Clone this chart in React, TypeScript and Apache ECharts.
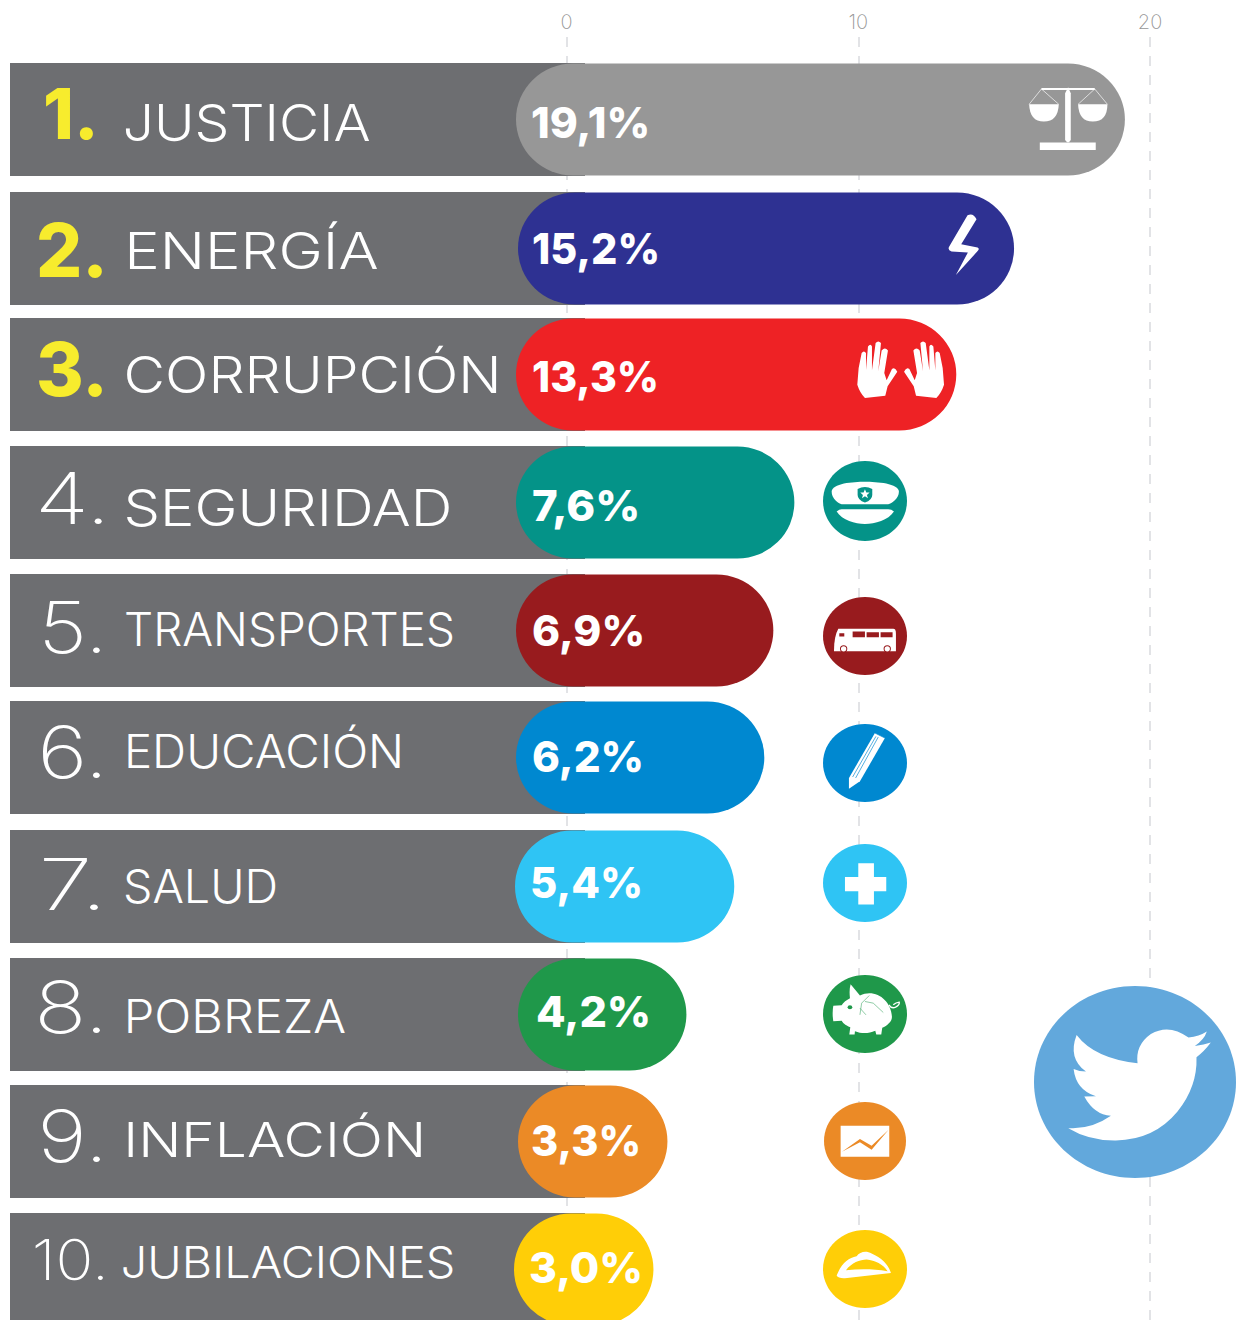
import React, { useEffect, useRef } from "react";
import * as echarts from "echarts";

const ranks = [1, 2, 3, 4, 5, 6, 7, 8, 9, 10];
const rankLabels = ["1.", "2.", "3.", "4.", "5.", "6.", "7.", "8.", "9.", "10."];
const categories = ["JUSTICIA", "ENERGÍA", "CORRUPCIÓN", "SEGURIDAD", "TRANSPORTES", "EDUCACIÓN", "SALUD", "POBREZA", "INFLACIÓN", "JUBILACIONES"];
const valueLabels = ["19,1%", "15,2%", "13,3%", "7,6%", "6,9%", "6,2%", "5,4%", "4,2%", "3,3%", "3,0%"];
// where each pill visibly ends on the 0-20 axis
const barEnds = [19.14, 15.34, 13.36, 7.81, 7.09, 6.78, 5.75, 4.11, 3.46, 2.98];
const xTicks = [0, 10, 20];

const colors = ["#979797", "#2e3192", "#ee2225", "#049388", "#981b1e", "#0088d0", "#2fc4f4", "#1f984a", "#eb8a26", "#ffce07"];
const BAND = "#6d6e71";

// layout
const rowNudge = [0, 1.5, -0.1, 0.3, 0.8, 0.2, 1.6, 2.1, 1.5, 1.9];
const pillStart = [516, 518, 516, 516, 516, 516, 515, 518, 518, 514];
const nameLayout = [
  [125, 245, 122.5, 50], [129, 249, 250.5, 50], [127, 370, 374.5, 50], [127, 322, 507.5, 50], [126, 327, 629, 46],
  [128, 272, 751, 46], [125, 151, 886.5, 46], [128, 217, 1016.5, 46], [128, 293, 1140, 48], [123, 330, 1263, 43],
];
const rankLayout = [
  [46, 47, 113.5, 70, 800], [39, 63, 250, 74, 800], [39, 63, 369, 74, 800], [40, 62, 498, 72, 200], [44, 56, 627, 72, 200],
  [42, 58, 752, 72, 200], [44, 54, 884, 72, 200], [39, 61, 1007, 72, 200], [42, 58, 1136, 72, 200], [35, 68, 1259, 56, 200],
];
const valueLayout = [
  [532, 115, 122.5], [533, 124, 248.5], [533, 123, 376.5], [533, 104, 505.5], [533, 109, 630.5],
  [533, 108, 756.5], [532, 108, 882.5], [537, 111, 1011.5], [532, 106, 1140.5], [530, 110, 1267.5],
];
const iconCircles: (number[] | null)[] = [
  null, null, null, [865, 501, 42, 40], [865, 636, 42, 39], [865, 763, 42, 39], [865, 883, 42, 39], [865, 1014, 42, 39], [865, 1141, 41, 39], [865, 1269, 42, 39],
];

type Part = { d: string; fill?: string; stroke?: string; lw?: number; mirror?: number };
const W = "#ffffff";
const handD = "M75 1015 Q60 1000 52 975 L56 925 L65 880 Q72 870 78 880 L78 932 L84 860 Q92 850 96 860 L96 932 L107 850 Q115 840 123 850 L115 935 L125 872 Q135 860 144 872 L133 940 L140 962 L156 928 Q165 920 172 936 L143 980 L136 1008 Z";
const icons: { ox: number; oy: number; parts: Part[] }[] = [
  { ox: 840, oy: 60, parts: [
    { d: "M605 84H765V90H605Z", fill: W },
    { d: "M676 100 L685 82 L693 100 V240 Q685 255 676 240Z", fill: W },
    { d: "M600 248H768V270H600Z", fill: W },
    { d: "M568 133H657 Q655 185 612 185 Q570 185 568 133Z", fill: W },
    { d: "M715 133H803 Q803 185 759 185 Q717 185 715 133Z", fill: W },
    { d: "M605 87 L568 133 M605 87 L657 133 M765 87 L715 133 M765 87 L803 133", stroke: W, lw: 2 },
  ] },
  { ox: 840, oy: 60, parts: [
    { d: "M383 466 Q400 458 410 478 L364 553 L413 563 Q420 567 414 573 L348 646 L384 578 L335 575 Q322 570 328 560Z", fill: W },
  ] },
  { ox: 840, oy: 60, parts: [
    { d: handD, fill: W },
    { d: handD, fill: W, mirror: 364 },
  ] },
  { ox: 810, oy: 450, parts: [
    { d: "M65 125 C65 100 130 95 165 95 C200 95 267 100 267 125 C267 145 245 160 235 163 H95 C85 160 65 145 65 125Z", fill: W },
    { d: "M80 185 Q88 178 95 178 H235 Q245 178 252 185 C235 212 195 222 165 222 C135 222 97 212 80 185Z", fill: W },
    { d: "M143 117 Q165 105 187 117 V135 Q187 150 165 158 Q143 150 143 135Z", fill: colors[3] },
    { d: "M165 118 L169 128 L179 128 L171 135 L174 145 L165 139 L156 145 L159 135 L151 128 L161 128Z", fill: W },
  ] },
  { ox: 810, oy: 450, parts: [
    { d: "M85 537 H250 Q258 537 258 550 V604 H72 Q72 560 85 537Z", fill: W },
    { d: "M90 597 A11 11 0 1 1 112 597 A11 11 0 1 1 90 597Z M221 597 A11 11 0 1 1 243 597 A11 11 0 1 1 221 597Z", fill: colors[4] },
    { d: "M93 597 A8 8 0 1 1 109 597 A8 8 0 1 1 93 597Z M224 597 A8 8 0 1 1 240 597 A8 8 0 1 1 224 597Z", fill: W },
    { d: "M128 545H165V562H128Z M170 547H207V562H170Z M212 547H248V562H212Z M88 550H103V560H88Z", fill: colors[4] },
  ] },
  { ox: 810, oy: 450, parts: [
    { d: "M117 1017 L117 985 L195 850 L225 865 L150 995 Z", fill: W },
    { d: "M137 985 L205 862 M128 982 L198 860 M195 850 L225 865", stroke: colors[5], lw: 2 },
  ] },
  { ox: 810, oy: 830, parts: [
    { d: "M145 100H192V141H229V184H192V224H145V184H105V141H145Z", fill: W },
  ] },
  { ox: 810, oy: 830, parts: [
    { d: "M122 463 L150 497 C195 475 243 510 246 560 C247 575 232 587 217 594 L214 614 L199 614 L196 603 C175 612 155 612 135 604 L134 614 L118 614 L121 592 C105 587 97 577 95 573 L70 574 Q66 550 70 528 L95 526 C100 518 110 510 120 505 Q117 480 122 463Z", fill: W },
    { d: "M237 525 Q245 538 257 532 Q270 525 268 517 Q258 518 250 525", stroke: W, lw: 4 },
    { d: "M178 497 L155 520 L150 555 M165 515 L190 520 L220 548 M150 535 L168 555", stroke: colors[7], lw: 1.5 },
    { d: "M113 532 A7 6 0 1 1 127 532 A7 6 0 1 1 113 532Z", fill: colors[7] },
  ] },
  { ox: 810, oy: 830, parts: [
    { d: "M92 888H238V981H92Z", fill: W },
    { d: "M96 966 L150 928 L185 948 L236 900 L185 960 L150 938Z", fill: colors[8] },
  ] },
  { ox: 810, oy: 830, parts: [
    { d: "M80 1338 C95 1300 115 1285 140 1280 C150 1265 170 1262 185 1272 C215 1285 235 1305 243 1330 L105 1346 Q85 1347 80 1338Z", fill: W },
    { d: "M108 1322 C125 1300 150 1290 170 1290 C195 1292 220 1305 233 1325 C190 1318 150 1318 108 1322Z", fill: colors[9] },
  ] },
];
const birdD = "M152 165 Q205 235 335 250 Q328 195 375 162 Q430 130 488 173 Q520 170 543 155 Q535 180 507 198 Q535 195 555 188 Q535 215 512 232 Q515 320 455 395 Q385 480 270 482 Q190 483 127 445 Q195 450 255 408 Q205 405 175 350 L210 349 Q150 330 143 267 Q160 275 180 275 Q125 235 152 165Z";

const FONT = "Inter";
const ctx = document.createElement("canvas").getContext("2d")!;
// x and width are the ink extents of the text
function fitText(text: string, x: number, y: number, width: number, size: number, weight: number, fill: string, z2: number) {
  ctx.font = `${weight} ${size}px ${FONT}`;
  const m = ctx.measureText(text);
  const ink = m.actualBoundingBoxRight + m.actualBoundingBoxLeft || width;
  const sx = width / ink;
  return {
    type: "text", x: x + m.actualBoundingBoxLeft * sx, y, scaleX: sx, z2,
    style: { text, fill, fontSize: size, fontWeight: weight, fontFamily: FONT, align: "left", verticalAlign: "middle" },
  };
}

function pillPath(x0: number, x1: number, y0: number, y1: number) {
  const rx = Math.min(57, (x1 - x0) / 2);
  const ry = (y1 - y0) / 2;
  return `M${x0 + rx} ${y0}H${x1 - rx}A${rx} ${ry} 0 0 1 ${x1 - rx} ${y1}H${x0 + rx}A${rx} ${ry} 0 0 1 ${x0 + rx} ${y0}Z`;
}

function renderRow(params: any, api: any) {
  const i = params.dataIndex;
  const end = api.coord([api.value(0), api.value(1)]);
  const yc = end[1] + rowNudge[i];
  const nl = nameLayout[i], rl = rankLayout[i], vl = valueLayout[i];
  return {
    type: "group",
    children: [
      { type: "rect", shape: { x: 10, y: yc - 56.5, width: 575, height: 113 }, style: { fill: BAND }, z2: 1 },
      { type: "path", shape: { pathData: pillPath(pillStart[i], end[0], yc - 56, yc + 56) }, style: { fill: colors[i] }, z2: 2 },
      fitText(rankLabels[i], rl[0], rl[2], rl[1], rl[3], rl[4], i < 3 ? "#f7ec2d" : "#ffffff", 3),
      fitText(categories[i], nl[0], nl[2], nl[1], nl[3], 300, "#ffffff", 3),
      fitText(valueLabels[i], vl[0], vl[2], vl[1], 43, 800, "#ffffff", 3),
    ],
  };
}

function renderIcon(params: any) {
  const i = params.dataIndex;
  const c = iconCircles[i];
  const ic = icons[i];
  const children: any[] = [];
  if (c) children.push({ type: "ellipse", shape: { cx: c[0], cy: c[1], rx: c[2], ry: c[3] }, style: { fill: colors[i] }, z2: 4 });
  ic.parts.forEach((p, k) => {
    children.push({
      type: "group", x: ic.ox + (p.mirror ? p.mirror / 3 : 0), y: ic.oy, scaleX: p.mirror ? -1 / 3 : 1 / 3, scaleY: 1 / 3,
      children: [{
        type: "path", shape: { pathData: p.d },
        style: { fill: p.fill || "none", stroke: p.stroke || "none", lineWidth: p.lw || 0 }, z2: 5 + k,
      }],
    });
  });
  return { type: "group", children };
}

function renderTwitter() {
  return {
    type: "group",
    children: [
      { type: "ellipse", shape: { cx: 1135, cy: 1082, rx: 101, ry: 96 }, style: { fill: "#62a8dc" }, z2: 4 },
      { type: "group", x: 1026, y: 980, scaleX: 1 / 3, scaleY: 1 / 3, children: [
        { type: "path", shape: { pathData: birdD }, style: { fill: "#ffffff" }, z2: 5 },
      ] },
    ],
  };
}

export default function App() {
  const ref = useRef<HTMLDivElement>(null);
  useEffect(() => {
    document.body.style.margin = "0";
    const chart = echarts.init(ref.current!, undefined, { renderer: "svg" });
    const rows = ranks.map((r, i) => [barEnds[i], r]);
    chart.setOption({
      animation: false,
      backgroundColor: "#ffffff",
      grid: { left: 566.5, width: 583.5, top: 37, height: 1283 },
      xAxis: {
        type: "value", position: "top", min: xTicks[0], max: xTicks[2], interval: 10,
        axisLine: { show: false }, axisTick: { show: false },
        axisLabel: { color: "#969696", fontSize: 20, fontWeight: 200, fontFamily: FONT, margin: 5 },
        splitLine: { show: true, lineStyle: { color: "#e2e3e6", width: 2, type: [10, 9] } },
      },
      yAxis: { type: "value", show: false, inverse: true, min: 0.3533, max: 10.4113 },
      series: [
        { type: "custom", coordinateSystem: "cartesian2d", clip: false, data: rows, encode: { x: 0, y: 1 }, renderItem: renderRow, silent: true },
        { type: "custom", coordinateSystem: "cartesian2d", clip: false, data: rows, encode: { x: 0, y: 1 }, renderItem: renderIcon, silent: true },
        { type: "custom", coordinateSystem: "cartesian2d", clip: false, data: [[19, 8.5]], encode: { x: 0, y: 1 }, renderItem: renderTwitter, silent: true },
      ],
    });
    return () => chart.dispose();
  }, []);
  return <div ref={ref} style={{ position: "absolute", left: 0, top: 0, width: 1236, height: 1320 }} />;
}
